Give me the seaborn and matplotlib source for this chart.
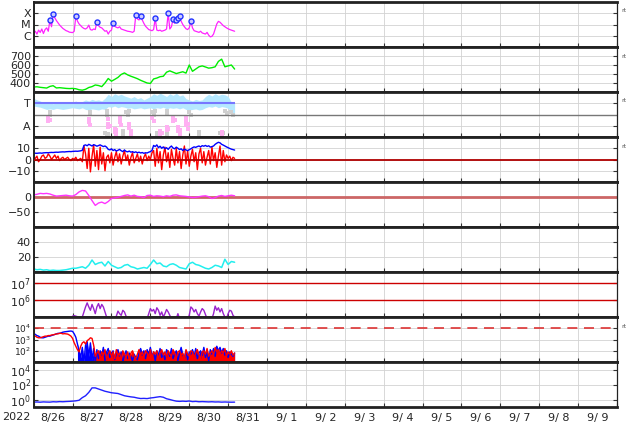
import numpy as np
import matplotlib
matplotlib.use("Agg")
import matplotlib.pyplot as plt
import seaborn as sns
from matplotlib.ticker import NullLocator, FixedLocator

sns.set_style("white")
plt.rcParams['font.family'] = ['DejaVu Sans']

# ---------------- data ----------------
day_labels = ["8/26", "8/27", "8/28", "8/29", "8/30", "8/31", "9/ 1", "9/ 2",
              "9/ 3", "9/ 4", "9/ 5", "9/ 6", "9/ 7", "9/ 8", "9/ 9"]
year_label = "2022"

# panel 1: X-ray flux (log10), hourly from 8/26 00UT
xray_log = [-5.75, -5.6, -5.85, -5.5, -5.7, -5.4, -5.8, -5.45, -5.3, -5.6,
            -4.62, -5.2, -4.09, -4.4, -4.65, -4.85, -5.05, -5.2, -5.35, -5.45,
            -5.55, -5.6, -5.68, -5.7, -5.72, -5.6, -4.25, -4.7, -4.95, -5.1,
            -5.25, -5.35, -5.4, -5.3, -5.05, -5.45, -5.5, -5.4, -5.45, -4.74,
            -5.1, -5.25, -5.3, -5.45, -5.6, -5.55, -5.85, -5.6, -5.5, -4.83,
            -5.15, -5.25, -5.3, -5.2, -5.4, -5.45, -5.5, -5.55, -5.6, -5.62,
            -5.65, -5.7, -5.6, -4.18, -4.5, -4.6, -4.25, -4.6, -4.9, -5.15,
            -5.3, -5.45, -5.5, -5.55, -5.45, -4.46, -5.5, -5.55, -5.5, -5.6,
            -5.55, -5.5, -5.4, -4.0, -5.4, -5.2, -4.53, -4.9, -4.62, -4.46,
            -4.25, -4.7, -5.0, -5.2, -5.38, -5.45, -5.3, -4.71, -5.3, -5.55,
            -5.6, -5.65, -5.7, -5.6, -5.75, -5.8, -5.85, -5.7, -5.95, -6.1,
            -6.05, -5.85, -5.4, -4.95, -4.72, -4.8, -4.95, -5.1, -5.2, -5.3,
            -5.38, -5.45, -5.5, -5.55, -5.6]
flare_hours = [10, 12, 26, 39, 49, 63, 66, 75, 83, 86, 88, 89, 90, 97]
flare_log = [-4.62, -4.09, -4.25, -4.74, -4.83, -4.18, -4.25, -4.46, -4.0,
             -4.53, -4.62, -4.46, -4.25, -4.71]
xray_ticks = [1e-6, 1e-5, 1e-4]
xray_ticklabels = ["C", "M", "X"]

# panel 2: solar wind speed, 2-hourly
speed = [355, 358, 352, 348, 344, 362, 370, 345, 348, 344,
         340, 338, 340, 336, 325, 320, 330, 350, 360, 378,
         372, 360, 400, 450, 420, 440, 462, 495, 512, 490,
         475, 462, 448, 430, 415, 400, 395, 445, 455, 470,
         475, 520, 535, 520, 505, 515, 525, 510, 600, 530,
         555, 580, 590, 578, 565, 570, 580, 640, 665, 580,
         590, 600, 555]

# panel 3: T/A band (2-hourly envelope) and sparse dots
band_hi = [3.45, 3.3, 3.2, 3.05, 3.0, 3.1, 2.95, 3.05, 3.0, 3.1,
           3.0, 3.15, 3.1, 3.2, 3.05, 3.15, 3.3, 3.2, 3.35, 3.25,
           3.3, 3.2, 3.45, 3.8, 3.6, 3.85, 3.7, 3.8, 3.65, 3.55,
           3.45, 3.6, 3.4, 3.5, 3.3, 3.45, 3.6, 3.85, 3.7, 3.9,
           3.75, 3.6, 3.85, 3.7, 3.9, 3.65, 3.75, 3.4, 3.3, 3.2,
           3.35, 3.25, 3.3, 3.6, 3.8, 3.65, 3.85, 3.7, 3.8, 3.75,
           3.6, 3.1, 3.0]
band_lo = [2.75, 2.7, 2.65, 2.55, 2.45, 2.5, 2.45, 2.55, 2.5, 2.45,
           2.5, 2.55, 2.6, 2.55, 2.5, 2.6, 2.45, 2.4, 2.5, 2.45,
           2.4, 2.5, 2.45, 2.7, 2.65, 2.75, 2.6, 2.7, 2.65, 2.55,
           2.6, 2.5, 2.55, 2.6, 2.5, 2.55, 2.6, 2.5, 2.6, 2.55,
           2.65, 2.5, 2.6, 2.55, 2.6, 2.5, 2.6, 2.45, 2.4, 2.45,
           2.5, 2.4, 2.45, 2.6, 2.7, 2.65, 2.75, 2.6, 2.7, 2.65,
           2.55, 2.2, 2.0]
t_level = 3
pink_hours = [9, 9, 10, 34, 34, 35, 46, 46, 46, 47, 50, 50, 51, 51, 53, 53, 54,
              59, 59, 60, 60, 73, 74, 78, 78, 79, 82, 82, 83, 86, 86, 87,
              89, 89, 90, 90, 94, 94, 94, 95, 95, 116, 116]
pink_vals = [1.65, 1.45, 1.55, 1.6, 1.3, 1.1, 1.6, 1.2, 0.85, 1.0, 0.75, 0.45,
             0.25, 0.6, 1.65, 1.35, 1.1, 1.2, 0.8, 0.5, 0.3, 1.65, 1.45, 0.5,
             0.3, 0.4, 0.9, 0.65, 0.75, 1.65, 1.4, 1.5, 0.85, 0.55, 0.3, 0.65,
             1.65, 1.35, 1.05, 0.75, 1.2, 0.45, 0.3]
gray_hours = [10, 10, 35, 35, 45, 45, 44, 45, 46, 55, 55, 57, 58, 59, 73, 74,
              75, 76, 76, 82, 82, 82, 96, 97, 102, 102, 115, 116, 117, 118,
              119, 122, 123]
gray_vals = [2.2, 2.0, 2.2, 2.05, 2.3, 2.0, 0.35, 0.2, 0.3, 0.3, 0.5, 2.2, 2.0,
             2.3, 2.25, 2.0, 2.35, 0.3, 0.4, 2.3, 2.1, 0.3, 2.2, 2.0, 0.25,
             0.45, 0.35, 0.2, 0.4, 2.3, 2.1, 2.2, 1.95]

# panel 4: IMF Bt and Bz (nT), hourly
bt = [5.3, 5.6, 5.5, 5.7, 5.8, 5.6, 5.9, 6.0, 6.1, 6.0,
      6.2, 6.3, 6.2, 6.4, 6.5, 6.4, 6.6, 6.7, 6.8, 6.7,
      6.9, 7.0, 7.1, 7.0, 7.2, 7.3, 7.4, 7.3, 7.5, 7.7,
      8.2, 12.5, 13.0, 12.2, 13.5, 12.8, 12.0, 13.2, 12.6, 11.8,
      12.4, 13.0, 12.2, 11.5, 12.0, 11.0, 9.0, 8.5, 9.5, 8.0,
      8.8, 7.5, 8.2, 9.0, 7.8, 7.0, 8.5, 7.2, 6.8, 7.5,
      6.5, 7.0, 6.2, 6.8, 6.0, 6.5, 5.8, 6.2, 5.5, 6.0,
      5.8, 6.5, 7.0, 8.0, 12.5, 11.5, 13.0, 10.5, 11.8, 10.0,
      11.2, 9.5, 10.5, 9.0, 10.8, 12.0, 10.2, 9.5, 11.0, 10.0,
      8.8, 9.5, 8.0, 9.2, 8.5, 7.8, 8.8, 9.5, 10.5, 11.2,
      10.8, 11.5, 12.0, 11.2, 12.3, 11.8, 12.5, 11.6, 12.2, 11.0,
      11.5, 12.0, 13.5, 14.5, 15.3, 14.8, 13.5, 12.8, 12.0, 11.2,
      10.5, 9.8, 9.2, 8.8, 8.4]
bz = [2, 1, 3, -2, 0, 3, 4, 1, 2, 5,
      3, 0, 2, 4, 1, 3, -1, 1, 2, 0,
      1, 2, 0, -1, 1, 0, 2, -1, 0, 1,
      -2, 12, 5, -8, 10, -11, 3, 13, -6, 8,
      -9, 11, -4, 6, -10, 2, 4, -3, 6, -5,
      2, 7, -2, 5, -4, 3, 8, -1, 4, -5,
      2, 6, -3, 1, 5, -2, 3, -4, 2, 5,
      -1, 3, 0, 6, 8, -6, 10, -3, 7, -9,
      4, 11, -2, 6, -7, 9, 1, -5, 10, -3,
      7, -8, 4, 12, -4, 8, -6, 3, 9, -2,
      6, -9, 5, 10, -3, 7, -5, 2, 8, -4,
      11, -1, 6, -7, 3, 12, -5, 8, -2, 4,
      1, 3, -1, 2, 1]

# panel 5: Dst-like index, 2-hourly
dst = [7, 9, 12, 11, 12, 10, 6, 3, 4, 5,
       6, 4, 3, 8, 17, 22, 20, 5, -12, -28,
       -20, -17, -22, -15, -5, -3, -1, 2, 5, 7,
       3, 6, 2, 1, -2, 5, 6, 2, 4, 3,
       1, 4, 2, 6, 7, 4, 3, 2, 0, -2,
       -1, 1, 3, 4, 1, -5, -2, 3, 5, 2,
       4, 6, 4]

# panel 6: density-like, 2-hourly
dens = [4, 3, 3.5, 2.5, 3, 2, 2.5, 2, 2, 2.5,
        3, 4, 5, 5, 6, 7, 5, 9, 16, 10,
        12, 13, 8, 14, 9, 7, 5, 6, 9, 10,
        7, 6, 4, 5, 6, 5, 10, 16, 11, 12,
        8, 7, 10, 11, 9, 6, 5, 4, 11, 13,
        10, 9, 7, 5, 4, 6, 9, 8, 6, 17,
        10, 14, 13]

# panel 7: electron flux (log10), hourly
elec_log = [4.9] * 24 + [5.05, 5.08, 5.05, 5.02, 4.9, 4.9,
            5.0, 5.3, 5.6, 5.84, 5.6, 5.4, 5.75, 5.5, 5.2, 5.6,
            5.8, 5.5, 5.75, 5.6, 5.3, 5.0, 4.9, 4.9, 4.9, 4.9,
            4.9, 5.05, 5.35, 5.2, 5.1, 5.4, 5.3, 5.05, 4.9, 4.9,
            4.9, 4.9, 4.9, 4.9, 4.9, 4.9, 4.9, 4.9, 4.9, 4.9,
            4.9, 5.2, 5.5, 5.35, 5.45, 5.2, 5.55, 5.4, 5.1, 5.3,
            5.0, 5.2, 5.45, 5.3, 5.1, 4.9, 4.9, 4.9, 4.9, 5.2,
            4.9, 4.9, 4.9, 4.9, 4.9, 4.9, 5.1, 5.6, 5.5, 5.3,
            5.45, 5.2, 5.05, 5.3, 5.5, 5.4, 5.15, 4.9, 4.9, 4.9,
            4.9, 5.2, 5.65, 5.4, 5.55, 5.3, 5.5, 5.2, 5.0, 4.9,
            5.2, 5.4, 5.35, 5.1, 5.0]
elec_levels = [1e6, 1e7]

# panel 8: two flux channels (log10), hourly
flux_blue_log = [3.55, 3.45, 3.35, 3.3, 3.2, 3.15, 3.15, 3.2, 3.25, 3.3,
                 3.3, 3.35, 3.4, 3.45, 3.5, 3.55, 3.55, 3.6, 3.65, 3.68,
                 3.7, 3.72, 3.74, 3.75, 3.72, 3.5, 3.2, 2.6, 2.0, 1.4,
                 2.3, 1.0, 2.5, 2.8, 1.5, 2.7, 1.2, 2.2, 1.0,
                 2.1, 1.3, 2.0, 1.6, 2.3, 1.1, 1.9, 2.2, 1.4, 1.8,
                 2.0, 1.2, 1.7, 2.1, 1.5, 1.9, 1.0, 1.6, 2.0, 1.3,
                 1.8, 1.5, 1.1, 1.7, 1.4, 1.2, 1.9, 2.2, 1.6, 2.0,
                 1.3, 2.1, 1.7, 2.3, 1.5, 1.9, 1.1, 2.0, 1.6, 2.2,
                 1.4, 1.8, 1.2, 2.1, 1.9, 1.5, 2.2, 1.3, 1.7, 2.0,
                 1.1, 1.8, 2.3, 1.6, 1.4, 2.0, 1.2, 1.9, 1.7, 2.1,
                 1.5, 2.2, 1.3, 1.8, 2.0, 1.6, 2.3, 1.4, 1.9, 1.1,
                 2.1, 1.7, 2.2, 1.5, 2.4, 2.0, 2.3, 1.8, 2.2, 1.6,
                 2.0, 1.4, 1.9, 1.7, 1.5, 1.8]
flux_red_log = [3.35, 3.3, 3.2, 3.15, 3.15, 3.2, 3.25, 3.3, 3.3, 3.35,
                3.35, 3.4, 3.42, 3.45, 3.5, 3.5, 3.55, 3.55, 3.5, 3.52,
                3.5, 3.48, 3.4, 3.3, 3.1, 2.7, 2.4, 2.1, 1.9, 2.4,
                2.7, 2.8, 2.6, 2.9, 3.0, 3.15, 3.1, 2.5, 1.5,
                1.8, 2.0, 1.4, 1.9, 1.6, 2.1, 1.2, 1.7, 2.0, 1.5,
                1.9, 1.3, 2.1, 1.6, 1.8, 1.1, 2.0, 1.7, 1.4, 1.9,
                1.2, 1.8, 2.0, 1.5, 1.3, 1.7, 2.1, 1.6, 1.9, 1.4,
                2.0, 1.8, 1.5, 2.1, 1.3, 1.9, 1.7, 2.0, 1.2, 1.8,
                2.1, 1.6, 1.9, 1.4, 2.0, 1.7, 1.5, 2.1, 1.8, 1.3,
                1.9, 2.0, 1.6, 1.8, 1.2, 2.1, 1.7, 1.5, 2.0, 1.9,
                1.4, 1.8, 2.1, 1.6, 1.3, 1.9, 2.0, 1.7, 2.2, 1.5,
                1.8, 2.0, 1.6, 2.3, 1.9, 2.1, 1.7, 2.0, 1.8, 2.2,
                1.5, 1.9, 1.7, 2.0, 1.6, 1.8]
flux_threshold = 1e4

# panel 9: flux (log10), 2-hourly
p9_log = [-0.35, -0.33, -0.36, -0.32, -0.34, -0.35, -0.3, -0.32, -0.28, -0.3,
          -0.27, -0.25, -0.22, -0.18, -0.1, 0.25, 0.5, 0.95, 1.55, 1.55,
          1.4, 1.25, 1.1, 1.0, 0.9, 0.85, 0.8, 0.65, 0.5, 0.42,
          0.35, 0.3, 0.2, 0.13, 0.15, 0.12, 0.2, 0.25, 0.32, 0.38,
          0.3, 0.1, 0.0, -0.12, -0.22, -0.25, -0.22, -0.25, -0.2, -0.28,
          -0.25, -0.3, -0.28, -0.3, -0.32, -0.3, -0.33, -0.32, -0.35, -0.33,
          -0.35, -0.36, -0.35]

# ---------------- figure ----------------
W, H = 634, 424
fig = plt.figure(figsize=(W / 100, H / 100), dpi=100)
gs = fig.add_gridspec(9, 1, left=33.7 / W, right=617 / W,
                      top=1 - 2 / H, bottom=1 - 407 / H, hspace=0)
axes = [fig.add_subplot(gs[i]) for i in range(9)]

def days_hourly(vals):
    return np.arange(len(vals)) / 24.0

def days_2h(vals):
    return np.arange(len(vals)) * 2 / 24.0

def style(ax, ylim, ticks, labels, log=False, grid=True, labelsize=8):
    if log:
        ax.set_yscale('log')
    ax.set_ylim(*ylim)
    ax.set_xlim(0, 15)
    ax.yaxis.set_major_locator(FixedLocator(ticks))
    ax.set_yticklabels(labels)
    ax.yaxis.set_minor_locator(NullLocator())
    ax.xaxis.set_major_locator(FixedLocator(np.arange(0, 16)))
    ax.xaxis.set_minor_locator(NullLocator())
    ax.set_xticklabels([])
    ax.grid(False)
    ax.grid(True, axis='x', color='#d2d2d2', lw=0.6)
    if grid:
        ax.grid(True, axis='y', color='#d2d2d2', lw=0.6)
    ax.set_axisbelow(True)
    ax.tick_params(axis='both', which='both', direction='in', length=3,
                   labelsize=labelsize, right=True, left=True, top=False,
                   bottom=True, pad=2, color='#333333')
    for s in ['top', 'bottom']:
        ax.spines[s].set_linewidth(2.0)
        ax.spines[s].set_color('#222222')
    ax.spines['left'].set_linewidth(1.4)
    ax.spines['right'].set_linewidth(0.9)
    ax.spines['left'].set_color('#222222')
    ax.spines['right'].set_color('#222222')
    ax.set_xlabel('')
    ax.set_ylabel('')

# panel 1
ax = axes[0]
sns.lineplot(x=days_hourly(xray_log), y=10 ** np.array(xray_log), ax=ax,
             color='#ff22ff', lw=0.9)
sns.scatterplot(x=np.array(flare_hours) / 24.0, y=10 ** np.array(flare_log),
                ax=ax, s=13, color='#ccccff', edgecolor='#2233ff', linewidth=1.0,
                zorder=5)
style(ax, (1e-7, 1e-3), xray_ticks, xray_ticklabels, log=True)

# panel 2
ax = axes[1]
sns.lineplot(x=days_2h(speed), y=speed, ax=ax, color='#00ee00', lw=1.0)
style(ax, (300, 800), [400, 500, 600, 700], ["400", "500", "600", "700"])

# panel 3
ax = axes[2]
ax.fill_between(days_2h(band_hi), band_lo, band_hi, color='#b5e8ff', lw=0)
sns.scatterplot(x=np.array(gray_hours) / 24.0, y=gray_vals, ax=ax, s=8,
                color='#cfcfcf', marker='s', linewidth=0)
sns.scatterplot(x=np.array(pink_hours) / 24.0, y=pink_vals, ax=ax, s=8,
                color='#ffb0f2', marker='s', linewidth=0)
ax.hlines(t_level, 0, (len(band_hi) - 1) * 2 / 24.0, color='#7777ff', lw=1.5)
ax.axhline(2, color='#777777', lw=1.0)
style(ax, (0, 4), [1, 3], ["A", "T"])

# panel 4
ax = axes[3]
ax.axhline(0, color='#b00000', lw=1.3, zorder=4)
sns.lineplot(x=days_hourly(bz), y=bz, ax=ax, color='#ff0000', lw=1.0)
sns.lineplot(x=days_hourly(bt), y=bt, ax=ax, color='#0000ff', lw=1.0)
style(ax, (-20, 20), [-10, 0, 10], ["\u221210", "0", "10"])

# panel 5
ax = axes[4]
ax.axhline(0, color='#cc6666', lw=2.0)
sns.lineplot(x=days_2h(dst), y=dst, ax=ax, color='#ff33ff', lw=1.0)
style(ax, (-100, 50), [-50, 0], ["\u221250", "0"])

# panel 6
ax = axes[5]
sns.lineplot(x=days_2h(dens), y=dens, ax=ax, color='#22eeee', lw=1.1)
style(ax, (0, 60), [20, 40], ["20", "40"])

# panel 7
ax = axes[6]
for lev in elec_levels:
    ax.axhline(lev, color='#cc0000', lw=1.0)
sns.lineplot(x=days_hourly(elec_log), y=10 ** np.array(elec_log), ax=ax,
             color='#9922cc', lw=1.0)
style(ax, (1e5, 10 ** 7.68), [1e6, 1e7], ["$10^{6}$", "$10^{7}$"], log=True,
      grid=False)

# panel 8
ax = axes[7]
fb = 10 ** np.array(flux_blue_log)
fr = 10 ** np.array(flux_red_log)
idx = np.arange(len(fb))
ax.fill_between(days_hourly(fb), fb, 10, color='#0000ff', lw=0,
                where=idx >= 27)
sns.lineplot(x=days_hourly(fb), y=fb, ax=ax, color='#0000ff', lw=1.0)
ax.fill_between(days_hourly(fr), fr, 10, color='#ff0000', lw=0,
                where=idx >= 37)
sns.lineplot(x=days_hourly(fr), y=fr, ax=ax, color='#ff0000', lw=1.0)
ax.axhline(flux_threshold, color='#dd3333', lw=1.2, ls=(0, (6, 4)))
style(ax, (10, 1e5), [1e2, 1e3, 1e4], ["$10^{2}$", "$10^{3}$", "$10^{4}$"],
      log=True, labelsize=6.5)

# panel 9
ax = axes[8]
sns.lineplot(x=days_2h(p9_log), y=10 ** np.array(p9_log), ax=ax,
             color='#2020ff', lw=1.0)
style(ax, (0.1, 1e5), [1e0, 1e2, 1e4], ["$10^{0}$", "$10^{2}$", "$10^{4}$"],
      log=True)
ax.set_xticks(np.arange(0.5, 15, 1), minor=True)
ax.set_xticklabels(day_labels, minor=True)
ax.tick_params(axis='x', which='minor', length=0, labelsize=8, pad=4)

fig.text(16 / W, 1 - 416.5 / H, year_label, fontsize=8, ha='center', va='center')
for yy in [10, 56, 101, 146, 327]:
    fig.text(621 / W, 1 - yy / H, "rt", fontsize=4.5, color='#555555',
             ha='left', va='center')

fig.savefig("out.png", dpi=100)
